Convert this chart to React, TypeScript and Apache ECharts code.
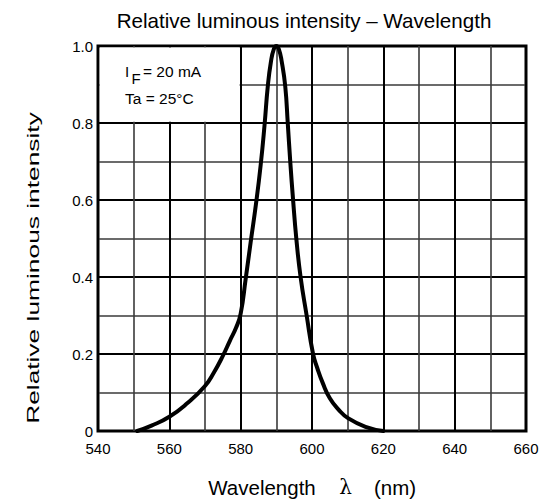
import React, { useEffect, useRef } from "react";
import * as echarts from "echarts";

const FONT = "'Liberation Sans', Arial, Helvetica, sans-serif";

// Curve: wavelength (nm) and relative luminous intensity
const wavelengths = [
  551, 555, 560, 565, 570, 572.5, 575, 577, 578.7, 580, 581.4, 582.8, 584.3, 585.6,
  586.7, 587.6, 588.5, 589.3, 590, 590.7, 591.5, 592.5, 593.2, 593.9, 594.7, 595.6,
  596.8, 598.5, 600.3, 601.5, 603, 605, 607.5, 610, 615, 620,
];
const intensity = [
  0, 0.014, 0.037, 0.072, 0.117, 0.152, 0.195, 0.235, 0.268, 0.305, 0.395, 0.49, 0.59, 0.69,
  0.795, 0.895, 0.96, 0.992, 1.0, 0.992, 0.96, 0.895, 0.8, 0.7, 0.6, 0.5,
  0.4, 0.3, 0.2, 0.163, 0.125, 0.085, 0.055, 0.034, 0.011, 0,
];

const xTicks = [540, 560, 580, 600, 620, 640, 660];
const yTicks = [0, 0.2, 0.4, 0.6, 0.8, 1.0];

// blank legend box in data coordinates (wavelength from/to, intensity from/to)
const boxX = [540.5, 579.7];
const boxY = [0.803, 0.996];

export default function App() {
  const ref = useRef<HTMLDivElement>(null);
  useEffect(() => {
    if (!ref.current) return;
    const chart = echarts.init(ref.current, undefined, { renderer: "svg" });
    const data = wavelengths.map((w, i) => [w, intensity[i]]);
    chart.setOption({
      animation: false,
      backgroundColor: "#fff",
      textStyle: { fontFamily: FONT },
      grid: {
        left: 98,
        right: 19,
        top: 46,
        bottom: 71,
        show: true,
        borderColor: "#000",
        borderWidth: 3,
      },
      xAxis: {
        type: "value",
        min: xTicks[0],
        max: xTicks[xTicks.length - 1],
        interval: xTicks[1] - xTicks[0],
        axisLine: { show: false },
        axisTick: { show: false },
        axisLabel: { color: "#000", fontSize: 15, margin: 10, fontFamily: FONT },
        splitLine: { show: true, lineStyle: { color: "#000", width: 2 } },
        minorTick: { show: false, splitNumber: 2 },
        minorSplitLine: { show: true, lineStyle: { color: "#3a3a3a", width: 1.6 } },
      },
      yAxis: {
        type: "value",
        min: yTicks[0],
        max: yTicks[yTicks.length - 1],
        interval: yTicks[1] - yTicks[0],
        axisLine: { show: false },
        axisTick: { show: false },
        axisLabel: {
          color: "#000",
          fontSize: 15,
          margin: 5,
          fontFamily: FONT,
          formatter: (v: number) => (v === 0 ? "0" : v.toFixed(1)),
        },
        splitLine: { show: true, lineStyle: { color: "#000", width: 2 } },
        minorTick: { show: false, splitNumber: 2 },
        minorSplitLine: { show: true, lineStyle: { color: "#3a3a3a", width: 1.6 } },
      },
      series: [
        {
          type: "line",
          data,
          symbol: "none",
          smooth: 0.5,
          lineStyle: { color: "#000", width: 4, join: "round", cap: "round" },
          z: 5,
          markArea: {
            silent: true,
            label: { show: false },
            itemStyle: { color: "#fff", opacity: 1, borderWidth: 0 },
            data: [[{ xAxis: boxX[0], yAxis: boxY[0] }, { xAxis: boxX[1], yAxis: boxY[1] }]],
          },
        },
      ],
      graphic: [
        {
          type: "text",
          x: 304,
          y: 20,
          style: {
            text: "Relative luminous intensity – Wavelength",
            fontSize: 20.6,
            fontFamily: FONT,
            fill: "#000",
            textAlign: "center",
            textVerticalAlign: "middle",
          },
        },
        {
          type: "text",
          x: 33,
          y: 268,
          rotation: Math.PI / 2,
          scaleX: 1.55,
          style: {
            text: "Relative luminous intensity",
            fontSize: 17,
            fontFamily: FONT,
            fill: "#000",
            textAlign: "center",
            textVerticalAlign: "middle",
          },
        },
        {
          type: "text",
          x: 125,
          y: 71.3,
          z: 10,
          style: { text: "I", fontSize: 15, fontFamily: FONT, fill: "#000", textAlign: "left", textVerticalAlign: "middle" },
        },
        {
          type: "text",
          x: 131.5,
          y: 78,
          z: 10,
          style: { text: "F", fontSize: 15, fontFamily: FONT, fill: "#000", textAlign: "left", textVerticalAlign: "middle" },
        },
        {
          type: "text",
          x: 143,
          y: 71.3,
          z: 10,
          style: { text: "= 20 mA", fontSize: 15.5, fontFamily: FONT, fill: "#000", textAlign: "left", textVerticalAlign: "middle" },
        },
        {
          type: "text",
          x: 125,
          y: 98.7,
          z: 10,
          style: { text: "Ta = 25°C", fontSize: 15.5, fontFamily: FONT, fill: "#000", textAlign: "left", textVerticalAlign: "middle" },
        },
        {
          type: "text",
          x: 262,
          y: 487,
          style: { text: "Wavelength", fontSize: 20.5, fontFamily: FONT, fill: "#000", textAlign: "center", textVerticalAlign: "middle" },
        },
        {
          type: "text",
          x: 345.5,
          y: 487,
          style: { text: "λ", fontSize: 20, fontFamily: "'DejaVu Serif', serif", fill: "#000", textAlign: "center", textVerticalAlign: "middle" },
        },
        {
          type: "text",
          x: 395,
          y: 487,
          style: { text: "(nm)", fontSize: 20.5, fontFamily: FONT, fill: "#000", textAlign: "center", textVerticalAlign: "middle" },
        },
      ],
    });
    return () => chart.dispose();
  }, []);
  return (
    <div
      ref={ref}
      style={{ position: "fixed", left: 0, top: 0, width: 545, height: 502 }}
    />
  );
}
